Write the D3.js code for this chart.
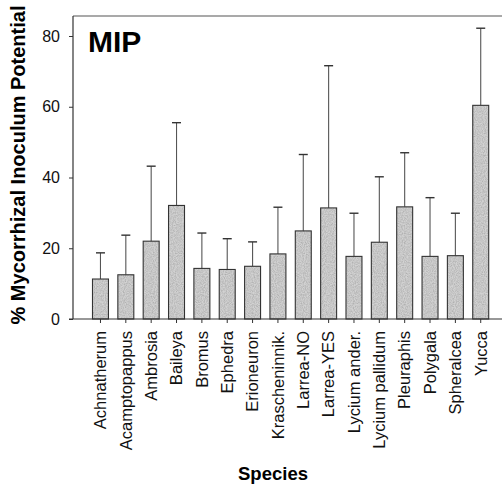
<!DOCTYPE html>
<html><head><meta charset="utf-8">
<script src="https://cdn.jsdelivr.net/npm/d3@7"></script>
<style>body{margin:0;background:#fff}svg{display:block}text{font-family:"Liberation Sans",Arial,sans-serif}</style>
</head><body>
<div id="chart"></div>
<script>
const species = ["Achnatherum","Acamptopappus","Ambrosia","Baileya","Bromus","Ephedra","Erioneuron","Krascheninnik.","Larrea-NO","Larrea-YES","Lycium ander.","Lycium pallidum","Pleuraphis","Polygala","Spheralcea","Yucca"];
const meanValues = [11.3,12.5,22.0,32.1,14.3,14.0,14.9,18.4,24.9,31.4,17.7,21.7,31.7,17.7,17.9,60.4];
const upperErrors = [18.7,23.7,43.2,55.5,24.3,22.7,21.8,31.6,46.5,71.6,29.9,40.2,47.0,34.3,29.9,82.2];
const yTicks = [0,20,40,60,80];

(function(){
const W=502,H=485;
const svg=d3.select("#chart").append("svg").attr("width",W).attr("height",H);
const mLeft=73, mRight=502, mTop=16, mBottom=319;

const defs=svg.append("defs");
const f=defs.append("filter").attr("id","grain").attr("x",0).attr("y",0).attr("width",1).attr("height",1);
f.append("feTurbulence").attr("type","fractalNoise").attr("baseFrequency",0.9).attr("numOctaves",2).attr("seed",3).attr("result","t");
f.append("feColorMatrix").attr("in","t").attr("type","matrix")
 .attr("values","0 0 0 0 0  0 0 0 0 0  0 0 0 0 0  0.6 0 0 0 -0.18").attr("result","dots");
f.append("feComposite").attr("in","dots").attr("in2","SourceGraphic").attr("operator","in").attr("result","d2");
const fm=f.append("feMerge");
fm.append("feMergeNode").attr("in","SourceGraphic");
fm.append("feMergeNode").attr("in","d2");

const x=d3.scaleBand().domain(species).range([87.8,493.4]).paddingInner(0.37).paddingOuter(0.185);
const y=d3.scaleLinear().domain([0,80]).range([mBottom,36]);

svg.append("line").attr("x1",mLeft).attr("x2",mRight).attr("y1",mTop).attr("y2",mTop).attr("stroke","#555").attr("stroke-width",1.2);

const g=svg.append("g");
species.forEach((s,i)=>{
  const cx=x(s)+x.bandwidth()/2;
  g.append("line").attr("x1",cx).attr("x2",cx).attr("y1",y(meanValues[i])).attr("y2",y(upperErrors[i])).attr("stroke","#555").attr("stroke-width",1.1);
  g.append("line").attr("x1",cx-4.5).attr("x2",cx+4.5).attr("y1",y(upperErrors[i])).attr("y2",y(upperErrors[i])).attr("stroke","#333").attr("stroke-width",1.4);
});
g.selectAll("rect.bar").data(species).enter().append("rect").attr("class","bar")
 .attr("x",d=>x(d)).attr("width",x.bandwidth())
 .attr("y",(d,i)=>y(meanValues[i])).attr("height",(d,i)=>mBottom-y(meanValues[i]))
 .attr("fill","#d2d2d2").attr("filter","url(#grain)");
g.selectAll("rect.outline").data(species).enter().append("rect").attr("class","outline")
 .attr("x",d=>x(d)).attr("width",x.bandwidth())
 .attr("y",(d,i)=>y(meanValues[i])).attr("height",(d,i)=>mBottom-y(meanValues[i]))
 .attr("fill","none").attr("stroke","#333").attr("stroke-width",1.1);

const ya=svg.append("g").attr("transform",`translate(${mLeft},0)`)
 .call(d3.axisLeft(y).tickValues(yTicks).tickSize(4).tickPadding(9).tickSizeOuter(0));
ya.select(".domain").attr("d",`M0,${mTop}V${mBottom}`).attr("stroke","#333").attr("stroke-width",1.2);
ya.selectAll("text").attr("font-size",16).attr("fill","#111");
ya.selectAll(".tick line").attr("stroke","#333");

const xa=svg.append("g").attr("transform",`translate(0,${mBottom})`)
 .call(d3.axisBottom(x).tickSize(4).tickSizeOuter(0));
xa.select(".domain").attr("d",`M${mLeft-4},0H${mRight}`).attr("stroke","#333").attr("stroke-width",1.2);
xa.selectAll(".tick line").attr("stroke","#333");
xa.selectAll("text").attr("font-size",16.5).attr("fill","#111")
 .attr("transform","rotate(-90)").attr("text-anchor","end")
 .attr("x",-12).attr("y",0).attr("dy","0.35em");

svg.append("text").attr("x",88).attr("y",52).attr("font-size",30).attr("font-weight","bold").text("MIP");
svg.append("text").attr("transform","translate(25,165) rotate(-90)").attr("text-anchor","middle")
 .attr("font-size",20).attr("font-weight","bold").text("% Mycorrhizal Inoculum Potential");
svg.append("text").attr("x",273).attr("y",480).attr("text-anchor","middle")
 .attr("font-size",18.5).attr("font-weight","bold").text("Species");
})();
</script>
</body></html>
